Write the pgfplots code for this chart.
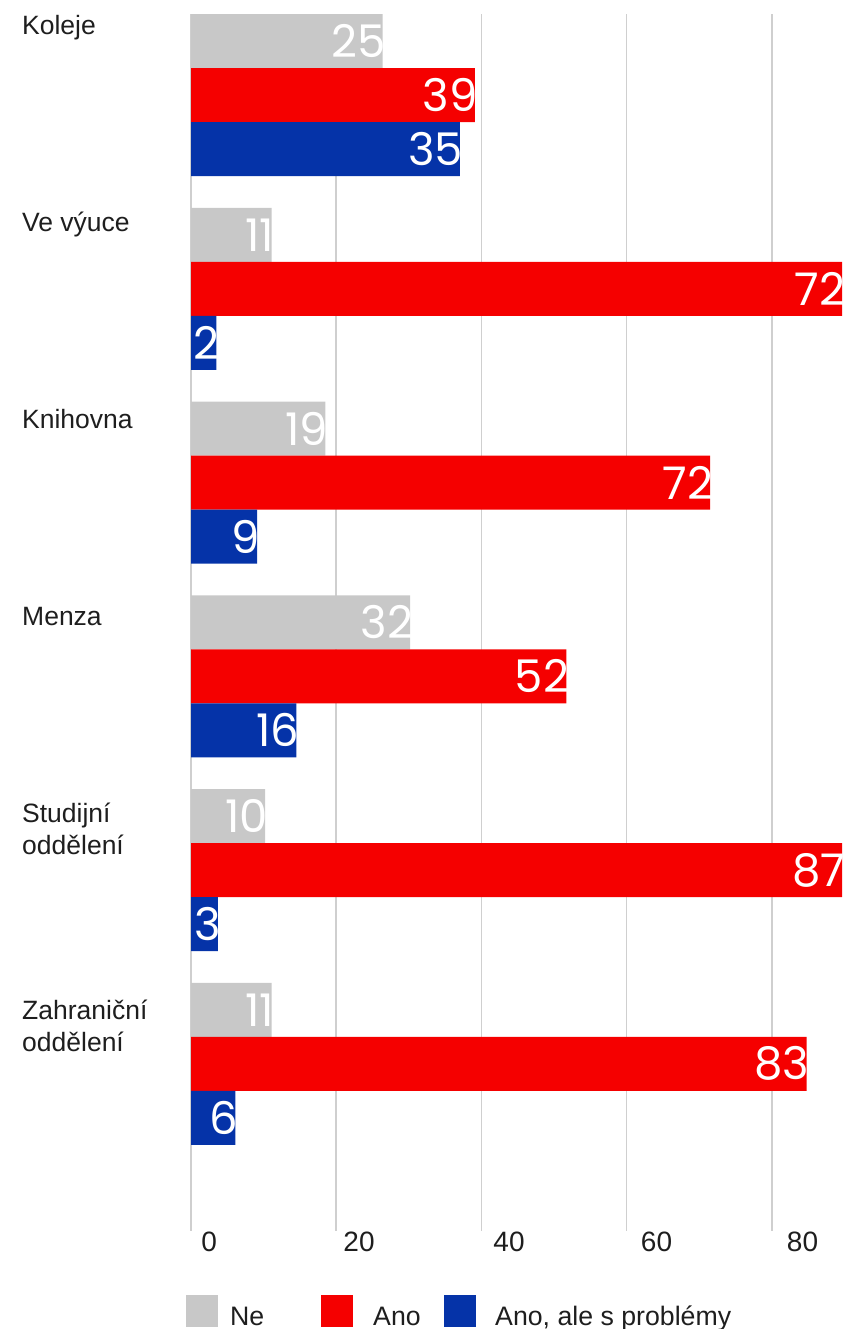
\documentclass[border=0pt]{standalone}
\usepackage{fontspec}
\setmainfont{Liberation Sans}
\newfontfamily\numfont{Poppins}
\usepackage{pgfplots}
\pgfplotsset{compat=1.18}
\definecolor{cNe}{HTML}{C8C8C8}
\definecolor{cAno}{HTML}{F50000}
\definecolor{cProb}{HTML}{0533A8}
\definecolor{cGrid}{HTML}{CFCFCF}
\definecolor{cTxt}{HTML}{1E1E1E}
\begin{document}
\begin{tikzpicture}[x=1pt,y=1pt]
\begin{axis}[
  at={(191pt,-14pt)}, anchor=north west,
  scale only axis, width=651.2pt, height=1217pt,
  xmin=0, xmax=89.7, ymin=0, ymax=6.281, y dir=reverse,
  axis line style={draw=none}, tick style={draw=none},
  xtick={0,20,40,60,80}, xticklabels={}, ytick=\empty,
  xmajorgrids, grid style={cGrid, line width=1.6pt},
  xbar, bar width=0.2787, bar shift=0pt,
  nodes near coords, point meta=explicit symbolic,
  every node near coord/.append style={anchor=east, text=white,
    font=\numfont\fontsize{45}{45}\selectfont, inner sep=0pt, xshift=3pt},
]
\addplot[fill=cNe, draw=none] coordinates {
  (26.4,0.1394) [25] (11.1,1.1394) [11] (18.5,2.1394) [19]
  (30.2,3.1394) [32] (10.2,4.1394) [10] (11.1,5.1394) [11]};
\addplot[fill=cAno, draw=none] coordinates {
  (39.1,0.418) [39] (89.7,1.418) [72] (71.5,2.418) [72]
  (51.7,3.418) [52] (89.7,4.418) [87] (84.8,5.418) [83]};
\addplot[fill=cProb, draw=none] coordinates {
  (37.05,0.697) [35] (3.5,1.697) [2] (9.1,2.697) [9]
  (14.5,3.697) [16] (3.7,4.697) [3] (6.1,5.697) [6]};
\end{axis}
% category labels
\begin{scope}[every node/.style={anchor=base west, inner sep=0pt, text=cTxt, font=\fontsize{26.5}{32}\selectfont}]
\node at (22,-35) {Koleje};
\node at (22,-231.9) {Ve výuce};
\node at (22,-428.8) {Knihovna};
\node at (22,-625.7) {Menza};
\node at (22,-822.4) {Studijní};
\node at (22,-854.3) {oddělení};
\node at (22,-1019.6) {Zahraniční};
\node at (22,-1051.7) {oddělení};
\end{scope}
% tick labels
\begin{scope}[every node/.style={anchor=base, inner sep=0pt, text=cTxt, font=\fontsize{28}{30}\selectfont}]
\node at (209.2,-1251) {0};
\node at (359,-1251) {20};
\node at (509,-1251) {40};
\node at (656.5,-1251) {60};
\node at (802.5,-1251) {80};
\end{scope}
% legend
\fill[cNe] (186,-1295) rectangle (218,-1327);
\fill[cAno] (321,-1295) rectangle (353,-1327);
\fill[cProb] (444,-1295) rectangle (476,-1327);
\begin{scope}[every node/.style={anchor=base west, inner sep=0pt, text=cTxt, font=\fontsize{26.7}{30}\selectfont}]
\node at (230,-1325) {Ne};
\node at (373,-1325) {Ano};
\node at (495,-1325) {Ano, ale s problémy};
\end{scope}
\pgfresetboundingbox
\useasboundingbox (0,0) rectangle (846,-1329);
\end{tikzpicture}
\end{document}
